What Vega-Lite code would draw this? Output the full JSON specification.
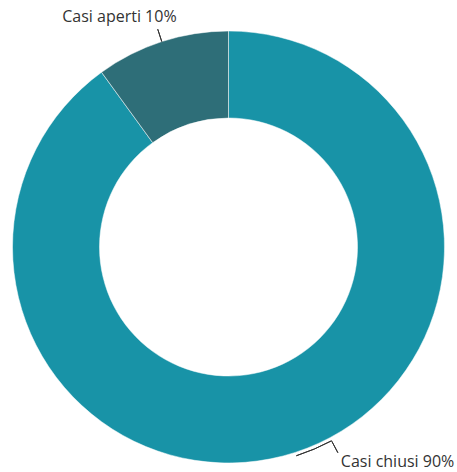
{
  "$schema": "https://vega.github.io/schema/vega-lite/v6.json",
  "width": 457,
  "height": 450,
  "autosize": {"type": "none"},
  "padding": {"top": 22, "left": 0, "right": 0, "bottom": 0},
  "background": "white",
  "view": {"stroke": null},
  "data": {
    "values": [
      {"cat": "Casi chiusi", "value": 90, "order": 1, "label": "Casi chiusi 90%"},
      {"cat": "Casi aperti", "value": 10, "order": 2, "label": "Casi aperti 10%"}
    ]
  },
  "layer": [
    {
      "mark": {"type": "arc", "outerRadius": 216, "innerRadius": 129, "stroke": "#ffffff", "strokeWidth": 0.5},
      "encoding": {
        "theta": {"field": "value", "type": "quantitative", "stack": true},
        "color": {
          "field": "cat",
          "type": "nominal",
          "scale": {"domain": ["Casi chiusi", "Casi aperti"], "range": ["#1893a7", "#2e6e78"]},
          "legend": null
        },
        "order": {"field": "order", "type": "quantitative"}
      }
    },
    {
      "transform": [
        {"window": [{"op": "sum", "field": "value", "as": "cum"}], "sort": [{"field": "order"}], "frame": [null, 0]},
        {"joinaggregate": [{"op": "sum", "field": "value", "as": "total"}]}
      ],
      "mark": {
        "type": "arc",
        "filled": false,
        "stroke": "#333333",
        "strokeWidth": 1,
        "theta": {"expr": "2*PI*(datum.cum-datum.value/2)/datum.total - (datum.cat=='Casi chiusi' ? 10*PI/180 : 0)"},
        "theta2": {"expr": "2*PI*(datum.cum-datum.value/2)/datum.total - (datum.cat=='Casi chiusi' ? 10*PI/180 : 0)"},
        "innerRadius": {"expr": "datum.cat=='Casi chiusi' ? 220 : 216"},
        "outerRadius": {"expr": "datum.cat=='Casi chiusi' ? 233 : 229"}
      },
      "encoding": {}
    },
    {
      "transform": [
        {"window": [{"op": "sum", "field": "value", "as": "cum"}], "sort": [{"field": "order"}], "frame": [null, 0]},
        {"joinaggregate": [{"op": "sum", "field": "value", "as": "total"}]},
        {"filter": "datum.cat=='Casi chiusi'"}
      ],
      "mark": {
        "type": "arc",
        "filled": false,
        "stroke": "#333333",
        "strokeWidth": 1,
        "theta": {"expr": "2*PI*(datum.cum-datum.value/2)/datum.total - 10*PI/180"},
        "theta2": {"expr": "2*PI*(datum.cum-datum.value/2)/datum.total"},
        "innerRadius": 219.5,
        "outerRadius": 219.5
      },
      "encoding": {}
    },
    {
      "mark": {
        "type": "text",
        "radius": 230,
        "font": "Open Sans",
        "fontSize": 16,
        "fill": "#333333",
        "align": "center",
        "baseline": "alphabetic",
        "dx": {"expr": "datum.cat=='Casi aperti' ? -38 : 98"},
        "dy": {"expr": "datum.cat=='Casi aperti' ? -6 : 1"}
      },
      "encoding": {
        "theta": {"field": "value", "type": "quantitative", "stack": true},
        "order": {"field": "order", "type": "quantitative"},
        "text": {"field": "label", "type": "nominal"}
      }
    }
  ]
}
